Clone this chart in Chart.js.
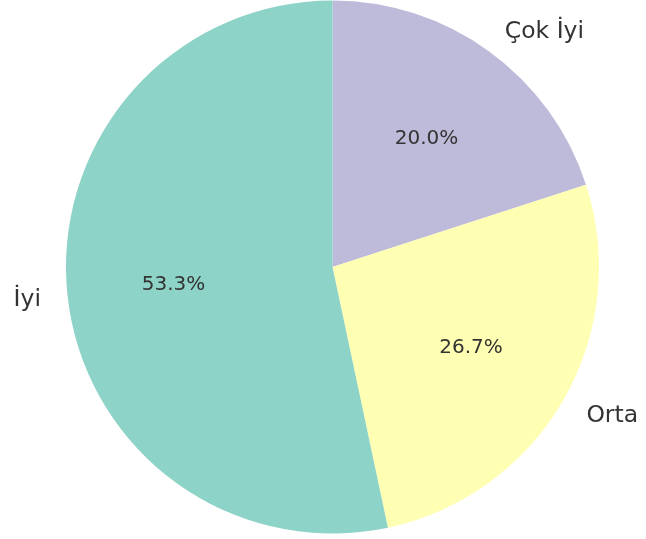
<!DOCTYPE html>
<html>
<head>
<meta charset="utf-8">
<script src="https://cdn.jsdelivr.net/npm/chart.js@4"></script>
<style>
html,body{margin:0;padding:0;background:#fff;}
canvas{display:block;}
</style>
</head>
<body>
<canvas id="c" width="646" height="539"></canvas>
<script>
const categories = ["Çok İyi", "Orta", "İyi"];
const values = [3, 4, 8];
const colors = ["#bebada", "#ffffb3", "#8dd3c7"];

const labelPlugin = {
  id: 'pieLabels',
  afterDatasetsDraw(chart) {
    const ctx = chart.ctx;
    const meta = chart.getDatasetMeta(0);
    const total = values.reduce((a, b) => a + b, 0);
    ctx.save();
    ctx.fillStyle = '#333333';
    ctx.textBaseline = 'middle';
    meta.data.forEach((arc, i) => {
      const mid = (arc.startAngle + arc.endAngle) / 2;
      const r = arc.outerRadius;
      const cx = arc.x, cy = arc.y;
      const lx = cx + Math.cos(mid) * r * 1.1;
      const ly = cy + Math.sin(mid) * r * 1.1;
      ctx.font = '23.5px "DejaVu Sans"';
      ctx.textAlign = Math.cos(mid) >= 0 ? 'left' : 'right';
      ctx.fillText(categories[i], lx, ly + 2);
      const px = cx + Math.cos(mid) * r * 0.6;
      const py = cy + Math.sin(mid) * r * 0.6;
      ctx.font = '20px "DejaVu Sans"';
      ctx.textAlign = 'center';
      ctx.fillText((values[i] / total * 100).toFixed(1) + '%', px, py + 1);
    });
    ctx.restore();
  }
};

new Chart(document.getElementById('c'), {
  type: 'pie',
  data: {
    labels: categories,
    datasets: [{
      data: values,
      backgroundColor: colors,
      borderWidth: 0
    }]
  },
  options: {
    responsive: false,
    animation: false,
    layout: { padding: { left: 66, right: 47, top: 0, bottom: 5 } },
    plugins: { legend: { display: false }, tooltip: { enabled: false } }
  },
  plugins: [labelPlugin]
});
</script>
</body>
</html>
